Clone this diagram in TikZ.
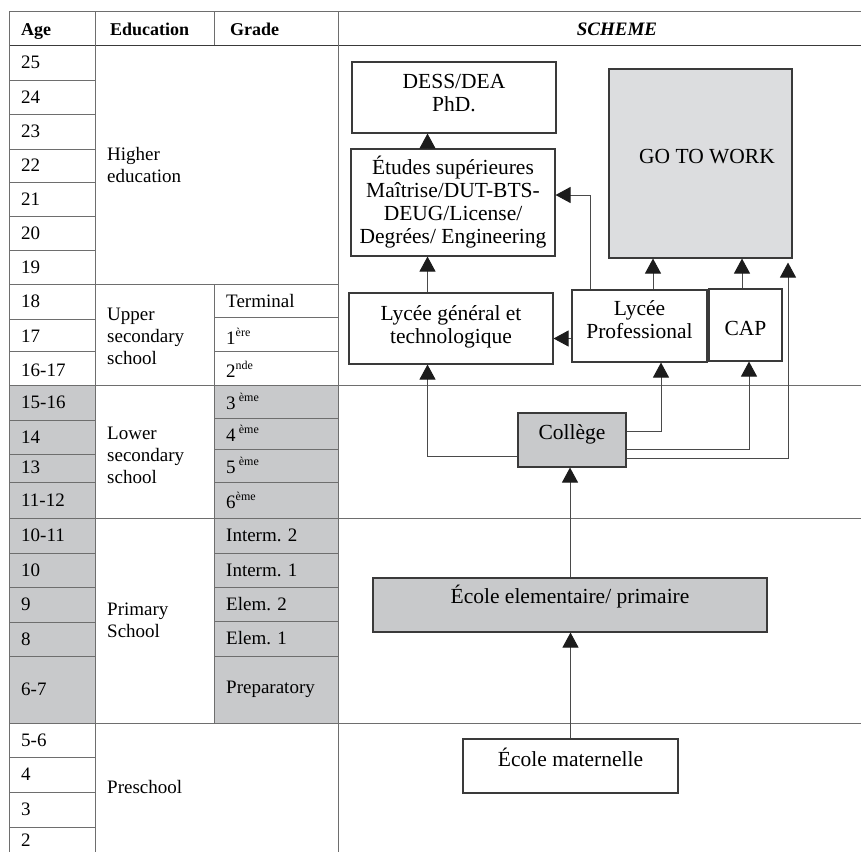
\documentclass[tikz,border=0pt]{standalone}
\usepackage{fontspec}
\setmainfont{Liberation Serif}
\usetikzlibrary{arrows.meta}

\definecolor{cellgray}{HTML}{C8C9CB}
\definecolor{workgray}{HTML}{DCDDDF}
\definecolor{linegray}{HTML}{6E6E6E}
\definecolor{boxline}{HTML}{3A3A3A}
\definecolor{connline}{HTML}{4A4A4A}
\definecolor{tipdark}{HTML}{1C1C1C}

\newcommand{\grsup}[1]{\raisebox{0.42em}{\fontsize{12}{12}\selectfont #1}}
\newcommand{\tabfont}{\fontsize{19}{22}\selectfont}
\newcommand{\schfont}{\fontsize{21.5}{23}\selectfont}

\begin{document}
\begin{tikzpicture}[x=1pt, y=-1pt,
	cell/.style={anchor=west, inner sep=0pt, font=\tabfont, align=left},
	head/.style={anchor=base west, inner sep=0pt, font=\fontsize{18}{21}\selectfont\bfseries},
	schbox/.style={draw=boxline, line width=1.1pt, font=\schfont, align=center, inner sep=0pt},
	conn/.style={draw=connline, line width=1pt, -{Triangle[width=16pt,length=15pt,color=tipdark]}},
	tabline/.style={draw=linegray, line width=1pt}]
			% Page size as in the reference
			\useasboundingbox (0,0) rectangle (861,852);
			
			% Shaded cells (compulsory schooling)
			\fill[cellgray] (9,385) rectangle (95,723);
			\fill[cellgray] (214,385) rectangle (338,723);
			
			% Rules running across the whole table
			\draw[tabline] (9,11) -- (861,11);
			\draw[tabline, draw=boxline] (9,45) -- (861,45);
			\draw[tabline] (9,385) -- (861,385);
			\draw[tabline] (9,518) -- (861,518);
			\draw[tabline] (9,723) -- (861,723);
			\draw[tabline] (9,284) -- (338,284);
			
			% Rules of the age column
			\draw[tabline] (9,80) -- (95,80) (9,114) -- (95,114) (9,149) -- (95,149)
				(9,182) -- (95,182) (9,216) -- (95,216) (9,250) -- (95,250)
				(9,319) -- (95,319) (9,351) -- (95,351) (9,420) -- (95,420)
				(9,454) -- (95,454) (9,482) -- (95,482) (9,553) -- (95,553)
				(9,587) -- (95,587) (9,622) -- (95,622) (9,656) -- (95,656)
				(9,757) -- (95,757) (9,792) -- (95,792) (9,827) -- (95,827);
			
			% Rules of the grade column
			\draw[tabline] (214,317) -- (338,317) (214,351) -- (338,351) (214,418) -- (338,418)
				(214,449) -- (338,449) (214,482) -- (338,482) (214,553) -- (338,553)
				(214,587) -- (338,587) (214,621) -- (338,621) (214,656) -- (338,656);
			
			% Vertical rules
			\draw[tabline] (9,11) -- (9,852);
			\draw[tabline] (95,11) -- (95,852);
			\draw[tabline] (338,11) -- (338,852);
			\draw[tabline] (214,11) -- (214,45) (214,284) -- (214,723);
			
			% Header
			\node[head] (hage) at (21,35) {Age};
			\node[head] (hedu) at (110,35) {Education};
			\node[head] (hgrade) at (230,35) {Grade};
			\node[anchor=base, inner sep=0pt, font=\fontsize{19}{21}\selectfont\bfseries\itshape] (hscheme) at (617,35) {SCHEME};
			
			% Age column
			\node[cell] (age25) at (21,62.5) {25};
			\node[cell] (age24) at (21,97) {24};
			\node[cell] (age23) at (21,131.5) {23};
			\node[cell] (age22) at (21,165.5) {22};
			\node[cell] (age21) at (21,199) {21};
			\node[cell] (age20) at (21,233) {20};
			\node[cell] (age19) at (21,267) {19};
			\node[cell] (age18) at (21,301.5) {18};
			\node[cell] (age17) at (21,336) {17};
			\node[cell] (age1617) at (21,370) {16-17};
			\node[cell] (age1516) at (21,402.5) {15-16};
			\node[cell] (age14) at (21,437) {14};
			\node[cell] (age13) at (21,467) {13};
			\node[cell] (age1112) at (21,500) {11-12};
			\node[cell] (age1011) at (21,535.5) {10-11};
			\node[cell] (age10) at (21,570) {10};
			\node[cell] (age9) at (21,604.5) {9};
			\node[cell] (age8) at (21,639) {8};
			\node[cell] (age67) at (21,689.5) {6-7};
			\node[cell] (age56) at (21,740) {5-6};
			\node[cell] (age4) at (21,774.5) {4};
			\node[cell] (age3) at (21,809.5) {3};
			\node[cell] (age2) at (21,840.5) {2};
			
			% Education column
			\node[cell] (higher) at (107,165) {Higher\\education};
			\node[cell] (upper) at (107,336) {Upper\\secondary\\school};
			\node[cell] (lower) at (107,455) {Lower\\secondary\\school};
			\node[cell] (primary) at (107,620) {Primary\\School};
			\node[cell] (preschool) at (107,787) {Preschool};
			
			% Grade column
			\node[cell] (terminal) at (226,300.5) {Terminal};
			\node[cell] (premiere) at (226,336) {1\grsup{ère}};
			\node[cell] (seconde) at (226,369) {2\grsup{nde}};
			\node[cell] (troisieme) at (226,401.5) {3\,\grsup{ème}};
			\node[cell] (quatrieme) at (226,433.5) {4\,\grsup{ème}};
			\node[cell] (cinquieme) at (226,465.5) {5\,\grsup{ème}};
			\node[cell] (sixieme) at (226,500) {6\grsup{ème}};
			\node[cell] (interm2) at (226,535.5) {Interm. 2};
			\node[cell] (interm1) at (226,570) {Interm. 1};
			\node[cell] (elem2) at (226,604) {Elem. 2};
			\node[cell] (elem1) at (226,638.5) {Elem. 1};
			\node[cell] (prep) at (226,689.5) {Preparatory};
			
			% Scheme boxes
			\node[schbox, minimum width=204pt, minimum height=71pt, text depth=10pt] (dess) at (454,97.5) {DESS/DEA\\PhD.};
			\node[schbox, minimum width=204pt, minimum height=107pt] (etudes) at (453,202.5) {Études supérieures\\Maîtrise/DUT-BTS-\\DEUG/License/\\Degrées/ Engineering};
			\node[schbox, fill=workgray, minimum width=183pt, minimum height=189pt, text height=15pt, text depth=15.8pt] (work) at (700.5,163.5) {\hspace{13pt}GO TO WORK};
			\node[schbox, minimum width=204pt, minimum height=71pt, text depth=8pt] (lgen) at (451,328.5) {Lycée général et\\technologique};
			\node[schbox, minimum width=135pt, minimum height=72pt, text depth=12pt] (lpro) at (639.5,326) {Lycée\\Professional};
			\node[schbox, minimum width=73pt, minimum height=72pt, text height=21pt, text depth=0pt] (cap) at (745.5,325) {CAP};
			\node[schbox, fill=cellgray, minimum width=108pt, minimum height=54pt, text height=15pt, text depth=15.8pt] (college) at (572,440) {Collège};
			\node[schbox, fill=cellgray, minimum width=394pt, minimum height=54pt, text height=15pt, text depth=18.8pt] (elem) at (570,605) {École elementaire/ primaire};
			\node[schbox, minimum width=215pt, minimum height=54pt, text height=15pt, text depth=14.8pt] (mat) at (570.5,766) {École maternelle};
			
			% Columns where the connectors run
			\coordinate (lx) at (427.5,0);
			\coordinate (px) at (590,0);
			\coordinate (wx1) at (653,0);
			\coordinate (wx2) at (742,0);
			\coordinate (wx3) at (788,0);
			\coordinate (cx1) at (661,0);
			\coordinate (cx2) at (749,0);
			
			% Shifted ends of the connectors
			\path (etudes.east) ++(0,-7.5) coordinate (etin);
			\path (lgen.east) ++(0,10) coordinate (lgin);
			\path (college.west) ++(0,16) coordinate (colw);
			\path (college.east) ++(0,-9) coordinate (cole1);
			\path (college.east) ++(0,9) coordinate (cole2);
			\path (college.east) ++(0,18) coordinate (cole3);
			\path (work.south -| wx3) ++(0,4) coordinate (worktip);
			
			% Connectors
			\draw[conn] (etudes.north -| lx) -- (dess.south -| lx);
			\draw[conn] (lgen.north -| lx) -- (etudes.south -| lx);
			\draw[conn] (lpro.north -| px) |- (etin);
			\draw[conn] (lpro.north -| wx1) -- (work.south -| wx1);
			\draw[conn] (cap.north -| wx2) -- (work.south -| wx2);
			\draw[conn] (lgin -| lpro.west) -- (lgin);
			\draw[conn] (colw) -| (lgen.south -| lx);
			\draw[conn] (cole1) -| (lpro.south -| cx1);
			\draw[conn] (cole2) -| (cap.south -| cx2);
			\draw[conn] (cole3) -| (worktip);
			\draw[conn] (elem.north) -- (elem.north |- college.south);
			\draw[conn] (mat.north) -- (mat.north |- elem.south);
			
		\end{tikzpicture}
\end{document}
